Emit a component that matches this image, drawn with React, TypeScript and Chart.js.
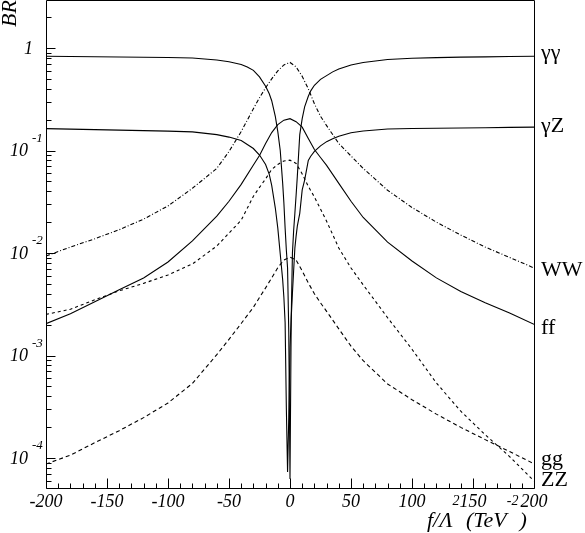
import { useEffect, useRef } from "react";
import { Chart, registerables, Plugin } from "chart.js";

Chart.register(...registerables);

// f/Lambda^2 grid (TeV^-2): fine one for the two dipping channels, smooth one for the rest
const F_FINE = [
  -200, -160, -120, -100, -80, -60, -50, -40, -35, -30, -25, -20, -17, -15, -12, -10, -8, -6, -5, -4,
  -3, -2, -1, 0, 1, 2, 3, 4, 5, 6, 8, 10, 12, 15, 17, 20, 25, 30, 35, 40,
  50, 60, 80, 100, 120, 140, 160, 180, 200,
];
const F_SMOOTH = [
  -200, -180, -160, -140, -120, -100, -80, -60, -50, -40, -30, -25, -20, -15, -10, -5,
  0, 5, 10, 15, 20, 25, 30, 40, 50, 60, 80, 100, 120, 140, 160, 180, 200,
];

const BR_GAMMA_GAMMA = [
  0.831, 0.821, 0.812, 0.807, 0.8, 0.765, 0.734, 0.691, 0.654, 0.605, 0.523, 0.423, 0.358, 0.306,
  0.214, 0.153, 0.1, 0.0478, 0.0306, 0.0175, 0.0107, 0.00715, 0.00167, 0.0000625, 0.00234, 0.01,
  0.0167, 0.0244, 0.0366, 0.0559, 0.143, 0.2045, 0.267, 0.338, 0.382, 0.4325, 0.494, 0.538, 0.585,
  0.625, 0.684, 0.723, 0.773, 0.794, 0.805, 0.814, 0.82, 0.825, 0.831,
];
const BR_GAMMA_Z = [
  0.1635, 0.16, 0.1564, 0.1546, 0.1519, 0.143, 0.1352, 0.125, 0.1143, 0.1046, 0.0904, 0.0731, 0.0585,
  0.0457, 0.0273, 0.0175, 0.00978, 0.00547, 0.00366, 0.00209, 0.00031, 0.000073, 0.00025, 0.0012,
  0.00234, 0.0041, 0.0068, 0.0112, 0.0146, 0.0183, 0.0244, 0.0413, 0.0515, 0.08, 0.088, 0.098, 0.111,
  0.122, 0.13, 0.138, 0.149, 0.155, 0.162, 0.164, 0.165, 0.166, 0.167, 0.168, 0.169,
];
const BR_WW = [
  0.00935, 0.01143, 0.01377, 0.01688, 0.0214, 0.0288, 0.0428, 0.0669, 0.0978, 0.153, 0.256, 0.327,
  0.409, 0.5, 0.598, 0.684, 0.723, 0.654, 0.529, 0.4, 0.286, 0.216, 0.175, 0.117, 0.0884, 0.0669,
  0.0409, 0.0278, 0.02, 0.01496, 0.01143, 0.00906, 0.00715,
];
const BR_FF = [
  0.002046, 0.002557, 0.003344, 0.004372, 0.005718, 0.008175, 0.01316, 0.02286, 0.03197, 0.04676,
  0.07228, 0.08943, 0.1169, 0.1496, 0.1789, 0.1978, 0.2045, 0.1912, 0.1691, 0.1308, 0.1023, 0.0855,
  0.07151, 0.04781, 0.03197, 0.02221, 0.01279, 0.008365, 0.005718, 0.004218, 0.00327, 0.002598, 0.002013,
];
const BR_ZZ = [
  0.002518, 0.002828, 0.003497, 0.004277, 0.005057, 0.006114, 0.007818, 0.01169, 0.01564, 0.02091,
  0.03575, 0.04373, 0.05288, 0.06538, 0.07312, 0.07907, 0.08047, 0.07477, 0.05913, 0.04472, 0.0352,
  0.02686, 0.02045, 0.01118, 0.00715, 0.004891, 0.002338, 0.001151, 0.0005395, 0.000286, 0.0001687,
  0.0001032, 0.00005977,
];
const BR_GG = [
  0.00008742, 0.0001067, 0.0001411, 0.0001849, 0.0002478, 0.0003442, 0.0005336, 0.00102, 0.001439,
  0.002054, 0.002957, 0.003681, 0.004573, 0.005718, 0.0072, 0.008551, 0.009145, 0.008551, 0.006687,
  0.005113, 0.003999, 0.00327, 0.002698, 0.00182, 0.001234, 0.0008902, 0.0005277, 0.0003706, 0.000268,
  0.0001991, 0.0001512, 0.0001156, 0.00008801,
];

const CHANNELS = ["γγ", "γZ", "WW", "ff", "gg", "ZZ"];
const X_TICKS = [-200, -150, -100, -50, 0, 50, 100, 150, 200];
const Y_DECADES = [0, -1, -2, -3, -4];

const X_MIN = -200;
const X_MAX = 200;
const Y_MIN = 5.1e-5;
const Y_MAX = 2.94;

const SERIF = "'Liberation Serif', 'DejaVu Serif', serif";

const toPoints = (xs: number[], ys: number[]) => xs.map((x, i) => ({ x, y: ys[i] }));
const last = (arr: number[]) => arr[arr.length - 1];

const rootFrame: Plugin<"line"> = {
  id: "rootFrame",
  afterDraw(chart) {
    const { ctx, chartArea: a, scales } = chart;
    const xs = scales.x;
    const ys = scales.y;
    const L = Math.round(a.left) + 0.5;
    const R = Math.round(a.right) + 0.5;
    const T = Math.round(a.top) + 0.5;
    const B = Math.round(a.bottom) + 0.5;

    ctx.save();
    ctx.strokeStyle = "#000";
    ctx.fillStyle = "#000";
    ctx.lineWidth = 1;
    ctx.setLineDash([]);
    ctx.beginPath();
    ctx.rect(L, T, R - L, B - T);

    // x ticks every 10, long ones every 50
    for (let v = X_MIN; v <= X_MAX; v += 10) {
      const px = Math.round(xs.getPixelForValue(v)) + 0.5;
      const len = v % 50 === 0 ? 10 : 5;
      ctx.moveTo(px, B);
      ctx.lineTo(px, B - len);
    }
    // y ticks on the log decades
    for (let e = -5; e <= 0; e++) {
      for (let m = 1; m <= 9; m++) {
        const v = m * Math.pow(10, e);
        if (v < Y_MIN || v > Y_MAX) continue;
        const py = Math.round(ys.getPixelForValue(v)) + 0.5;
        ctx.moveTo(L, py);
        ctx.lineTo(L + (m === 1 ? 9 : 5), py);
      }
    }
    ctx.stroke();

    ctx.font = `italic 18px ${SERIF}`;
    ctx.textAlign = "center";
    ctx.textBaseline = "middle";
    X_TICKS.forEach((v) => {
      ctx.fillText(String(v), xs.getPixelForValue(v), 502);
    });

    Y_DECADES.forEach((e) => {
      const py = ys.getPixelForValue(Math.pow(10, e));
      ctx.font = `italic 18px ${SERIF}`;
      ctx.textAlign = "right";
      if (e === 0) {
        ctx.fillText("1", 33, py + 1.5);
        return;
      }
      ctx.fillText("10", 28, py + 1);
      ctx.font = `italic 13px ${SERIF}`;
      ctx.textAlign = "left";
      ctx.fillText(String(e), 32, py - 12);
    });

    // axis titles
    ctx.textBaseline = "alphabetic";
    ctx.textAlign = "left";
    let cx = 427;
    const parts: [string, boolean][] = [["f/Λ", false], ["2", true], [" (TeV", false], ["-2", true], [")", false]];
    parts.forEach(([t, sup]) => {
      ctx.font = sup ? `italic 14px ${SERIF}` : `italic 22px ${SERIF}`;
      ctx.fillText(t, cx, sup ? 505 : 527);
      cx += ctx.measureText(t).width + (sup ? 1 : 0);
    });

    ctx.save();
    ctx.translate(16, 27);
    ctx.rotate(-Math.PI / 2);
    ctx.font = `italic 22px ${SERIF}`;
    ctx.fillText("BR", 0, 0);
    ctx.restore();

    // channel names next to the right-hand end of each curve
    const ends = [last(BR_GAMMA_GAMMA), last(BR_GAMMA_Z), last(BR_WW), last(BR_FF), last(BR_GG), last(BR_ZZ)];
    const nudge = [-3, -1, 2, 4, -4, -1];
    ctx.font = `22px ${SERIF}`;
    ctx.textBaseline = "middle";
    CHANNELS.forEach((name, i) => {
      ctx.fillText(name, 541, ys.getPixelForValue(ends[i]) + nudge[i]);
    });
    ctx.restore();
  },
};

export default function App() {
  const canvasRef = useRef<HTMLCanvasElement>(null);

  useEffect(() => {
    if (!canvasRef.current) return;
    const line = (label: string, xs: number[], ys: number[], dash: number[]) => ({
      label,
      data: toPoints(xs, ys),
      borderColor: "#000",
      borderWidth: 1.1,
      borderDash: dash,
      pointRadius: 0,
      tension: 0,
      fill: false,
    });

    const chart = new Chart(canvasRef.current, {
      type: "line",
      data: {
        datasets: [
          line("γγ", F_FINE, BR_GAMMA_GAMMA, []),
          line("γZ", F_FINE, BR_GAMMA_Z, []),
          line("WW", F_SMOOTH, BR_WW, [4, 2, 1, 2]),
          line("ff", F_SMOOTH, BR_FF, []),
          line("gg", F_SMOOTH, BR_GG, [4, 3]),
          line("ZZ", F_SMOOTH, BR_ZZ, [3, 3]),
        ],
      },
      options: {
        animation: false,
        responsive: false,
        layout: { padding: { left: 46, right: 51, top: 0, bottom: 45 } },
        scales: {
          x: { type: "linear", min: X_MIN, max: X_MAX, display: false },
          y: { type: "logarithmic", min: Y_MIN, max: Y_MAX, display: false },
        },
        plugins: { legend: { display: false }, tooltip: { enabled: false } },
      },
      plugins: [rootFrame],
    });

    return () => chart.destroy();
  }, []);

  return (
    <div style={{ position: "absolute", left: 0, top: 0, width: 585, height: 533, background: "#fff" }}>
      <canvas ref={canvasRef} width={585} height={533} />
    </div>
  );
}
